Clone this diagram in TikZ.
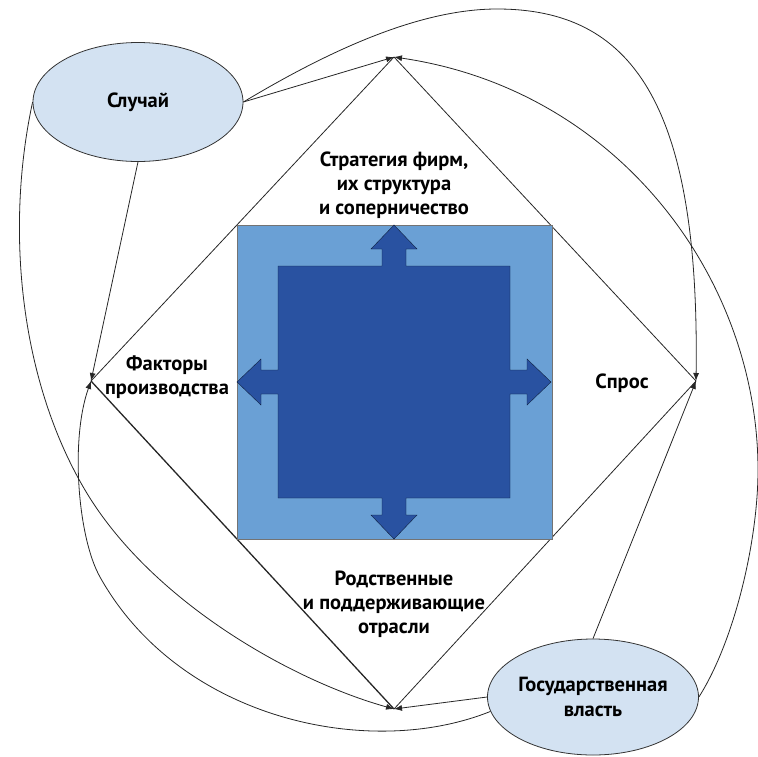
\documentclass[tikz,border=0pt]{standalone}
\usepackage{fontspec}
\setmainfont{PT Sans}
\usetikzlibrary{shapes.geometric,arrows.meta,positioning}
\definecolor{ellfill}{RGB}{211,226,242}
\definecolor{sqlight}{RGB}{106,160,213}
\definecolor{sqdark}{RGB}{41,82,161}

\begin{document}
\begin{tikzpicture}[x=1pt,y=-1pt,
  link/.style={draw=black!85,line width=0.8pt},
  arr/.style={link,-{Latex[length=8pt,width=6pt]}},
  oval/.style={ellipse,draw=black!80,line width=0.8pt,fill=ellfill,inner xsep=-40pt,inner ysep=0pt,align=center,font=\bfseries\fontsize{20.5}{25}\selectfont},
  lbl/.style={align=center,font=\bfseries\fontsize{20.5}{24}\selectfont}]
\useasboundingbox (0,0) rectangle (758,756);

\coordinate (str) at (394,57);
\coordinate (fac) at (91,381);
\coordinate (dem) at (696,381);
\coordinate (rel) at (394,709);

% diamond
\draw[link] (str) -- (fac);
\draw[link] (str) -- (dem);
\draw[link] (dem) -- (rel);
\draw[link,line width=1.3pt] (fac) -- (rel);

% square
\draw[fill=sqlight,draw=black!55] (237,225) rectangle (552,539);
\begin{scope}[shift={(394,382)}]
\draw[fill=sqdark,draw=black!60!sqdark] (-116,-116) -- (-12,-116) -- (-12,-133) -- (-23,-133) -- (0,-157) -- (23,-133) -- (12,-133) -- (12,-116)
  -- (116,-116) -- (116,-12) -- (133,-12) -- (133,-23) -- (157,0) -- (133,23) -- (133,12) -- (116,12)
  -- (116,116) -- (12,116) -- (12,133) -- (23,133) -- (0,157) -- (-23,133) -- (-12,133) -- (-12,116)
  -- (-116,116) -- (-116,12) -- (-133,12) -- (-133,23) -- (-157,0) -- (-133,-23) -- (-133,-12) -- (-116,-12) -- cycle;
\end{scope}

\node[lbl] (lstr) at (394,185) {Стратегия фирм,\\их структура\\и соперничество};
\node[lbl] (lfac) at (167,377) {Факторы\\производства};
\node[lbl] (ldem) at (622,383) {Спрос};
\node[lbl] (lrel) at (394,604) {Родственные\\и поддерживающие\\отрасли};

\node[oval,minimum width=210pt,minimum height=119pt] (chance) at (138,102) {Случай};
\node[oval,minimum width=211pt,minimum height=116pt] (gov) at (593,697) {Государственная\\власть};

% chance
\draw[arr] (chance.east) -- (str);
\draw[arr] (chance.east) .. controls (330,50) and (420,9) .. (497,9) .. controls (630,9) and (700,100) .. (dem);
\draw[arr] (chance.south) -- (fac);
\draw[arr] (chance.west) .. controls (5,230) and (20,380) .. (85,490) .. controls (150,600) and (290,680) .. (rel);

% government
\draw[arr] (gov.west) -- (rel);
\draw[arr] (gov.188) .. controls (370,760) and (180,720) .. (100,577) .. controls (78,538) and (70,440) .. (fac);
\draw[arr] (gov.north) -- (dem);
\draw[arr] (gov.east) .. controls (735,640) and (758,540) .. (758,470) .. controls (758,280) and (620,90) .. (str);
\end{tikzpicture}
\end{document}
